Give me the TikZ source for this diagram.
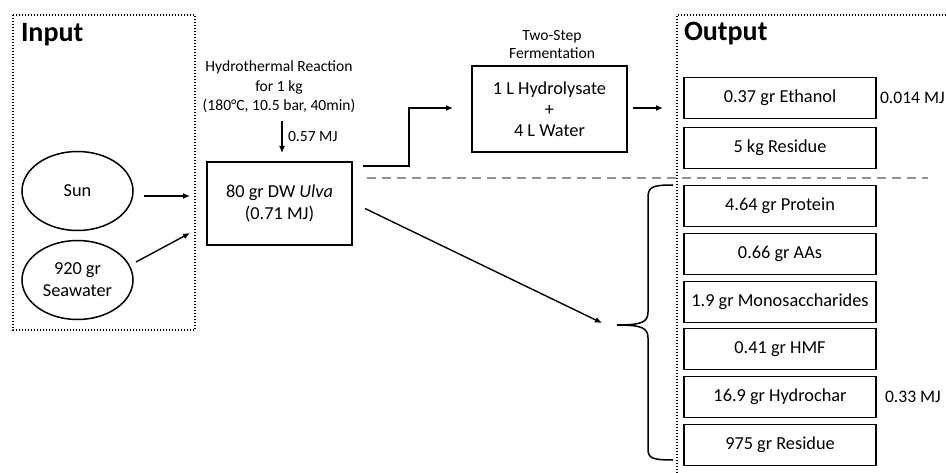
\documentclass[tikz,border=0pt]{standalone}
\usepackage{fontspec}
\setmainfont{Carlito}
\usetikzlibrary{arrows.meta,calc,shapes.geometric}
\begin{document}
\begin{tikzpicture}[x=1pt,y=-1pt,
  every node/.style={inner sep=0pt, outer sep=0pt},
  box/.style={draw, line width=1.6pt, align=center, font=\fontsize{18.3}{22}\selectfont},
  outbox/.style={box, minimum width=192pt, minimum height=41pt},
  oval/.style={draw, ellipse, line width=1.5pt, minimum width=111pt, minimum height=79pt,
    align=center, font=\fontsize{18.3}{22}\selectfont},
  note/.style={align=center, font=\fontsize{15.6}{19.5}\selectfont},
  energy/.style={font=\fontsize{17.6}{20}\selectfont},
  head/.style={anchor=west, font=\fontsize{28}{30}\selectfont\bfseries},
  flow/.style={-{Latex[length=7pt,width=6pt]}, line width=1.4pt},
  frame/.style={line width=1.4pt, dash pattern=on 1.3pt off 1.7pt},
  divider/.style={line width=1.6pt, gray!85, dash pattern=on 9pt off 6pt}
]
\useasboundingbox (0,0) rectangle (946,473);

% input and output frames
\draw[frame] (13,15) rectangle (195,330);
\draw[frame] (946,15) -- (677,15) -- (677,473);
\node[head] (inhead) at (21,35) {Input};
\node[head] (outhead) at (684,34) {Output};

% inputs
\node[oval] (sun) at (77.5,191) {Sun};
\node[oval] (sea) at (77.5,280) {920 gr\\Seawater};

% hydrothermal reactor
\node[box, minimum width=145pt, minimum height=83pt] (ulva) at (279.5,203.5)
  {80 gr DW \textit{Ulva}\\(0.71 MJ)};
\node[note] (hydro) at (279,87) {Hydrothermal Reaction\\for 1 kg\\(180°C, 10.5 bar, 40min)};
\coordinate (heatin) at (282,121);
\draw[flow, shorten >=9pt] (heatin) -- (heatin |- ulva.north);
\node[note, anchor=west] (heatlbl) at (288,137) {0.57 MJ};

\coordinate (sunout) at (144,196);
\coordinate (seaout) at (136,262);
\coordinate (ulvain) at (190,196);
\coordinate (ulvain2) at (190,233);
\draw[flow] (sunout) -- (ulvain);
\draw[flow] (seaout) -- (ulvain2);

% fermentation branch
\node[box, minimum width=155pt, minimum height=86pt] (ferm) at (549.5,109)
  {1 L Hydrolysate\\[-1pt]+\\[-1pt]4 L Water};
\node[note, font=\fontsize{15.6}{18}\selectfont] (fermlbl) at (552,44) {Two-Step\\Fermentation};
\coordinate (ulvatop) at ($(ulva.north east)+(11,4)$);
\coordinate (bend) at (409,166);
\coordinate (fermin) at (453,108);
\draw[flow] (ulvatop) -- (bend) |- (fermin);
\coordinate (fermout) at ($(ferm.east)+(6,-1)$);
\coordinate (outin) at (663,108);
\draw[flow] (fermout) -- (outin);

% outputs
\node[outbox] (ethanol) at (780,98) {0.37 gr Ethanol};
\node[outbox] (resid1) at (780,148) {5 kg Residue};
\node[energy, anchor=west] (ethE) at (880,98) {0.014 MJ};

\coordinate (divL) at (367,178);
\coordinate (divR) at (928,178);
\draw[divider] (divL) -- (divR);

\node[outbox] (protein) at (780,206) {4.64 gr Protein};
\node[outbox] (aas) at (780,254) {0.66 gr AAs};
\node[outbox] (mono) at (780,302) {1.9 gr Monosaccharides};
\node[outbox] (hmf) at (780,349) {0.41 gr HMF};
\node[outbox] (char) at (780,397) {16.9 gr Hydrochar};
\node[outbox] (resid2) at (780,445) {975 gr Residue};
\node[energy, anchor=west] (charE) at (885,397) {0.33 MJ};

% hydrothermal products
\coordinate (ulvaside) at ($(ulva.east)+(13,5)$);
\coordinate (bracetip) at (617,325);
\coordinate (toarrow) at (602,323);
\draw[flow] (ulvaside) -- (toarrow);
\draw[line width=1.5pt]
  (673,185) .. controls (652,185) and (648,187) .. (648,198)
  -- (648,312) .. controls (648,322) and (642,325) .. (bracetip)
  .. controls (642,325) and (648,328) .. (648,338)
  -- (648,449) .. controls (648,458) and (652,460) .. (673,460);
\end{tikzpicture}
\end{document}
